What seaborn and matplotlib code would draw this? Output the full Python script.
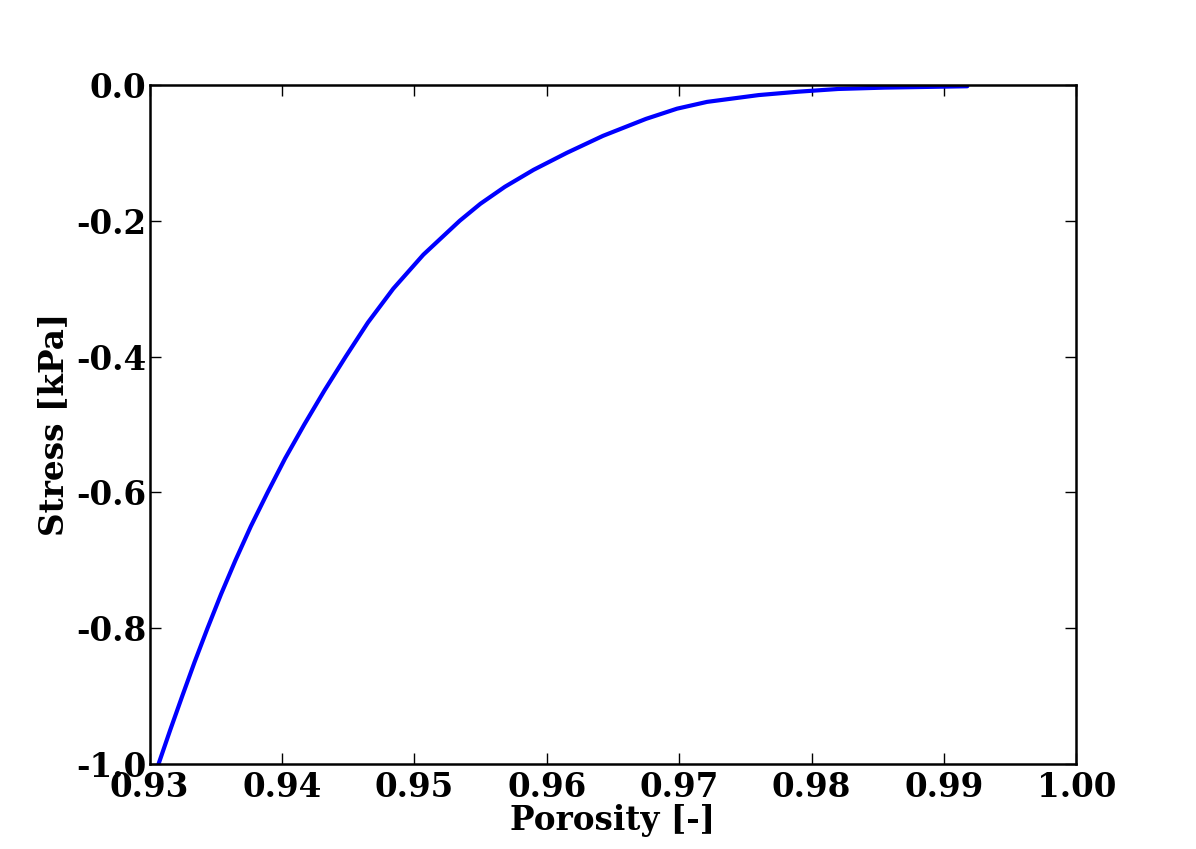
import numpy as np
import pandas as pd
import matplotlib
matplotlib.use("Agg")
import matplotlib.pyplot as plt
import seaborn as sns

porosity = [0.93068, 0.93156, 0.93247, 0.93340, 0.93438, 0.93540, 0.93649,
            0.93765, 0.93892, 0.94024, 0.94169, 0.94321, 0.94482, 0.94649,
            0.94841, 0.95068, 0.95343, 0.95499, 0.95684, 0.95901, 0.96152,
            0.96425, 0.96750, 0.96984, 0.97211, 0.97600, 0.97900, 0.98200,
            0.98550, 0.99176]
stress = [-1.000, -0.950, -0.900, -0.850, -0.800, -0.750, -0.700,
          -0.650, -0.600, -0.550, -0.500, -0.450, -0.400, -0.350,
          -0.300, -0.250, -0.200, -0.175, -0.150, -0.125, -0.100,
          -0.075, -0.050, -0.035, -0.025, -0.015, -0.010, -0.006,
          -0.004, -0.002]
xticks = [0.93, 0.94, 0.95, 0.96, 0.97, 0.98, 0.99, 1.00]
yticks = [0.0, -0.2, -0.4, -0.6, -0.8, -1.0]

sns.set_style("ticks")
plt.rcParams.update({
    "font.family": ["DejaVu Serif"],
    "font.weight": "bold",
    "axes.labelweight": "bold",
    "axes.unicode_minus": False,
    "text.color": "black",
    "axes.labelcolor": "black",
    "xtick.color": "black",
    "ytick.color": "black",
    "xtick.direction": "in",
    "ytick.direction": "in",
    "xtick.top": True,
    "ytick.right": True,
})

df = pd.DataFrame({"Porosity": porosity, "Stress": stress})

fig = plt.figure(figsize=(11.96, 8.49), dpi=100)
ax = fig.add_axes([0.125, 0.1, 0.775, 0.8])
sns.lineplot(data=df, x="Porosity", y="Stress", ax=ax, color="#0000ff",
             linewidth=3, sort=False, estimator=None)

ax.set_xlim(0.93, 1.00)
ax.set_ylim(-1.0, 0.0)
ax.set_xticks(xticks)
ax.set_yticks(yticks)
ax.set_xticklabels([f"{t:.2f}" for t in xticks])
ax.set_yticklabels([f"{t:.1f}" for t in yticks])
ax.tick_params(axis="both", which="major", labelsize=23.5, length=8, width=1,
               color="black", labelcolor="black", top=True, right=True)
ax.tick_params(axis="x", pad=5)
ax.tick_params(axis="y", pad=2.5)
for lab in ax.get_xticklabels() + ax.get_yticklabels():
    lab.set_fontweight("bold")
for s in ax.spines.values():
    s.set_visible(True)
    s.set_linewidth(1.8)
    s.set_color("black")
ax.set_xlabel("Porosity [-]", fontsize=23.5, fontweight="bold", labelpad=0,
              color="black")
ax.set_ylabel("Stress [kPa]", fontsize=23.5, fontweight="bold", labelpad=4,
              color="black")
ax.grid(False)

fig.savefig("out.png", dpi=100, facecolor="white")
